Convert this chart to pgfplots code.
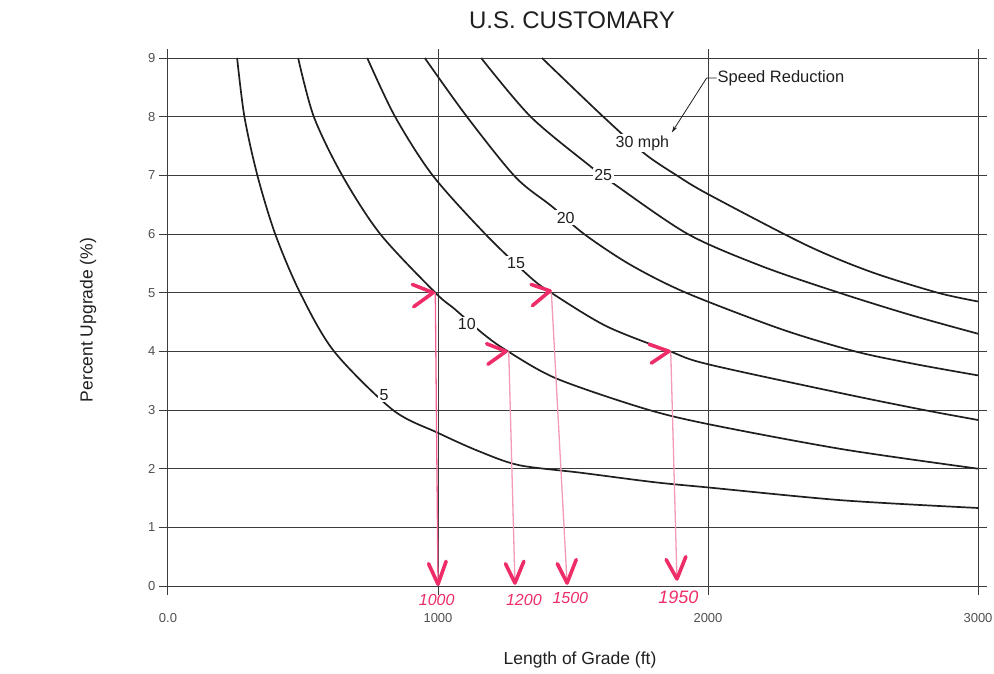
\documentclass[border=0pt]{standalone}
\usepackage{fontspec}
\setmainfont{Liberation Sans}
\usepackage{pgfplots}
\pgfplotsset{compat=1.18}
\usetikzlibrary{arrows.meta}

\definecolor{ink}{HTML}{1F1F1F}
\definecolor{rule}{HTML}{3C3C3C}
\definecolor{tickc}{HTML}{505050}
\definecolor{pen}{HTML}{EE2D68}
\definecolor{penlight}{HTML}{F39AB5}

\tikzset{
    curve/.style={ink, line width=1.7pt, smooth, no markers},
    hand/.style={pen, line width=3.6pt, line cap=round, line join=round, no markers},
    drop/.style={penlight, line width=1.3pt, no markers},
    lbl/.style={fill=white, inner sep=1.5pt, font=\fontsize{16}{16}\selectfont, text=ink},
    num/.style={pen, font=\itshape\fontsize{16}{16}\selectfont},
}

\begin{document}
\begin{tikzpicture}
\useasboundingbox (-168pt,-87pt) rectangle (826pt,586pt);
\begin{axis}[
    at={(0pt,0pt)}, anchor=south west,
    scale only axis, width=810pt, height=528pt,
    xmin=0, xmax=3000, ymin=0, ymax=9,
    xtick={0,1000,2000,3000},
    xticklabels={0.0,1000,2000,3000},
    ytick={0,1,...,9},
    grid=major,
    major grid style={rule, line width=1pt},
    axis line style={rule, line width=1pt},
    tick style={rule, line width=1pt},
    tick align=outside,
    major tick length=9pt,
    ticklabel style={font=\fontsize{13}{15}\selectfont, text=tickc},
    xticklabel style={yshift=-15pt},
    /pgf/number format/assume math mode=true,
    clip=false,
]

% speed reduction curves
% 5 mph
\addplot[curve] coordinates {
    (256,9) (283,8) (331,7) (397,6) (489,5) (615,4) (833,3)
    (1000,2.61) (1150,2.3) (1300,2.06) (1530,1.93) (1800,1.77)
    (2000,1.68) (2500,1.46) (3000,1.33)
};
% 10 mph
\addplot[curve] coordinates {
    (482,9) (540,8) (645,7) (786,6) (990,5) (1062,4.72) (1167,4.3)
    (1252,4.02) (1437,3.54) (1760,3.03) (2000,2.76) (2500,2.33) (3000,2.0)
};
% 15 mph
\addplot[curve] coordinates {
    (738,9) (841,8) (980,7) (1175,6.0) (1340,5.27)
    (1419,5.0) (1623,4.43) (1859,4.0) (2000,3.78) (2500,3.28)
    (2800,3.0) (3000,2.83)
};
% 20 mph
\addplot[curve] coordinates {
    (951,9) (1107,8) (1287,6.97) (1422,6.47) (1541,6.0) (1711,5.48)
    (1918,5.0) (2270,4.38) (2544,4.0) (2770,3.78) (3000,3.59)
};
% 25 mph
\addplot[curve] coordinates {
    (1160,9) (1343,8) (1560,7.17) (1653,6.85) (1925,6.0) (2200,5.45)
    (2485,5.0) (2750,4.62) (3000,4.30)
};
% 30 mph
\addplot[curve] coordinates {
    (1385,9) (1612,8) (1765,7.37) (1884,7.0) (2000,6.68) (2360,5.82)
    (2600,5.36) (2850,5.0) (3000,4.85)
};

% curve labels
\node[lbl] at (axis cs:800,3.25) {5};
\node[lbl] at (axis cs:1107,4.47) {10};
\node[lbl] at (axis cs:1289,5.5) {15};
\node[lbl] at (axis cs:1473,6.28) {20};
\node[lbl] at (axis cs:1612,7.0) {25};
\node[lbl] at (axis cs:1757,7.55) {30 mph};
\node[anchor=west, inner sep=0pt, font=\fontsize{16.5}{16.5}\selectfont, text=ink]
    at (axis cs:2035,8.66) {Speed Reduction};
\draw[ink, line width=0.8pt, -{Stealth[length=7pt,width=4pt]}]
    (axis cs:2032,8.66) -- (axis cs:1995,8.66) -- (axis cs:1866,7.73);

% handwritten annotations
\addplot[drop, pen!75] coordinates {(990,5) (1000,0.05)};
\addplot[drop] coordinates {(1262,4) (1285,0.05)};
\addplot[drop] coordinates {(1420,5) (1478,0.05)};
\addplot[drop] coordinates {(1862,4) (1885,0.12)};

\addplot[hand] coordinates {(905,5.14) (982,5.0) (910,4.76)};
\addplot[hand] coordinates {(1180,4.13) (1252,4.0) (1185,3.78)};
\addplot[hand] coordinates {(1345,5.14) (1415,5.03) (1350,4.78)};
\addplot[hand] coordinates {(1782,4.12) (1855,4.0) (1790,3.8)};

\addplot[hand] coordinates {(965,0.38) (1000,0.03) (1030,0.42)};
\addplot[hand] coordinates {(1250,0.38) (1285,0.05) (1318,0.42)};
\addplot[hand] coordinates {(1442,0.38) (1478,0.05) (1512,0.45)};
\addplot[hand] coordinates {(1845,0.45) (1885,0.12) (1918,0.5)};

\node[num] at (axis cs:995,-0.24) {1000};
\node[num] at (axis cs:1318,-0.24) {1200};
\node[num] at (axis cs:1490,-0.21) {1500};
\node[num, font=\itshape\fontsize{18}{18}\selectfont] at (axis cs:1890,-0.19) {1950};

\end{axis}

\node[font=\fontsize{24}{24}\selectfont, text=ink] at (404pt,566pt) {U.S. CUSTOMARY};
\node[font=\fontsize{17.5}{17.5}\selectfont, text=ink] at (412pt,-74pt) {Length of Grade (ft)};
\node[font=\fontsize{17.5}{17.5}\selectfont, text=ink, rotate=90] at (-80pt,266pt) {Percent Upgrade (\%)};
\end{tikzpicture}
\end{document}
